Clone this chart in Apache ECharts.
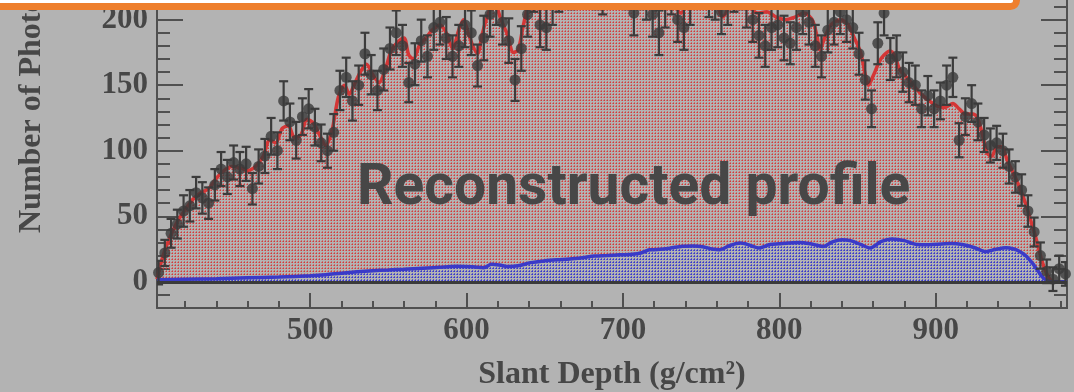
<!DOCTYPE html>
<html>
<head>
<meta charset="utf-8">
<script src="https://cdn.jsdelivr.net/npm/echarts@6.0.0/dist/echarts.min.js"></script>
<style>
  html, body { margin: 0; padding: 0; background: #b3b3b3; overflow: hidden; }
  #chart { width: 1074px; height: 392px; }
</style>
</head>
<body>
<div id="chart"></div>
<script>
// Slant-depth binning of the measured photon profile
const binStart = 403;
const binWidth = 4;

// Measured photons per bin and their uncertainties
const obsValue = [
  7, 22, 37, 44, 54, 58, 68, 64, 60, 74,
  86, 80, 91, 86, 90, 71, 88, 96, 111, 100,
  138, 122, 108, 126, 132, 118, 106, 100, 114, 146,
  156, 138, 150, 174, 158, 146, 162, 178, 190, 180,
  152, 166, 184, 172, 194, 198, 186, 172, 180, 196,
  190, 165, 186, 204, 214, 198, 184, 154, 178, 204,
  224, 196, 194, 214, 224, 232, 226, 240, 228, 236,
  226, 222, 240, 232, 244, 226, 205, 226, 218, 204,
  190, 212, 222, 200, 194, 214, 232, 236, 220, 218,
  206, 214, 224, 226, 212, 200, 188, 180, 194, 196,
  186, 182, 194, 206, 198, 180, 172, 192, 198, 206,
  200, 194, 174, 154, 132, 182, 205, 170, 172, 160,
  152, 150, 132, 142, 132, 138, 150, 156, 108, 126,
  136, 122, 112, 104, 106, 100, 88, 80, 70, 54,
  38, 20, 8, 2, 10, 6
];
const obsError = [
  9, 10, 11, 11, 12, 12, 12, 12, 12, 12,
  13, 13, 13, 13, 13, 12, 13, 13, 14, 14,
  15, 14, 14, 14, 15, 14, 14, 13, 14, 15,
  15, 15, 15, 16, 15, 15, 16, 16, 17, 16,
  15, 16, 16, 16, 17, 17, 16, 16, 16, 17,
  17, 16, 17, 17, 18, 17, 17, 16, 17, 17,
  18, 17, 17, 18, 18, 18, 18, 18, 18, 18,
  18, 18, 18, 18, 19, 18, 17, 18, 18, 17,
  17, 18, 18, 17, 17, 18, 18, 18, 18, 18,
  17, 18, 18, 18, 18, 17, 17, 16, 17, 17,
  17, 16, 17, 17, 17, 16, 16, 17, 17, 17,
  17, 16, 16, 15, 14, 16, 17, 16, 16, 15,
  15, 15, 14, 15, 14, 14, 15, 15, 13, 14,
  14, 14, 13, 13, 13, 13, 13, 12, 12, 12,
  11, 10, 9, 9, 10, 9
];

// Reconstructed (total) profile
const profileDepth = [
  402, 404, 407, 411, 415, 420, 425, 430, 435, 440,
  445, 450, 455, 460, 465, 470, 474, 478, 482, 486,
  490, 494, 498, 502, 506, 510, 514, 518, 522, 525,
  528, 532, 536, 540, 544, 548, 552, 556, 560, 563,
  566, 570, 574, 578, 583, 587, 591, 595, 598, 601,
  604, 607, 610, 614, 618, 622, 626, 630, 633, 636,
  640, 645, 652, 660, 668, 676, 684, 692, 700, 708,
  716, 724, 730, 737, 743, 750, 756, 760, 764, 768,
  774, 780, 786, 792, 798, 804, 810, 816, 821, 824,
  826, 829, 833, 839, 844, 848, 852, 855, 857, 860,
  864, 867, 871, 874, 877, 883, 890, 896, 901, 906,
  911, 915, 919, 924, 927, 930, 933, 936, 939, 942,
  946, 950, 954, 958, 961, 964, 967, 970, 973, 976,
  984
];
const profileValue = [
  2, 12, 24, 36, 46, 55, 63, 68, 71, 79,
  85, 88, 87, 85, 88, 96, 108, 106, 117, 119,
  110, 112, 124, 121, 112, 104, 116, 141, 150, 143,
  150, 160, 166, 158, 152, 162, 177, 183, 186, 173,
  170, 181, 186, 192, 196, 190, 178, 192, 200, 190,
  180, 174, 189, 205, 212, 200, 189, 175, 177, 194,
  214, 226, 222, 232, 236, 232, 240, 236, 242, 234,
  228, 224, 218, 205, 220, 230, 222, 212, 202, 210,
  220, 212, 205, 206, 202, 200, 202, 205, 200, 188,
  177, 186, 196, 200, 196, 186, 175, 158, 150, 157,
  168, 173, 176, 172, 162, 154, 144, 138, 134, 133,
  136, 132, 128, 128, 124, 112, 98, 96, 103, 103,
  92, 82, 71, 58, 46, 34, 20, 9, 2, 0,
  0
];

// Background contribution
const bgDepth = [
  402, 420, 440, 460, 480, 500, 510, 520, 530, 540,
  550, 560, 572, 585, 594, 604, 611, 616, 621, 627,
  633, 641, 650, 658, 666, 674, 682, 690, 698, 706,
  712, 717, 722, 730, 738, 745, 751, 757, 762, 768,
  775, 781, 787, 794, 800, 806, 813, 820, 828, 834,
  840, 846, 852, 858, 865, 872, 880, 888, 896, 904,
  910, 917, 925, 932, 938, 945, 950, 954, 958, 962,
  965, 968, 971, 974, 984
];
const bgValue = [
  1.5, 2, 2.4, 3, 3.6, 4.6, 5.4, 6.6, 7.6, 8.4,
  9, 9.6, 10.4, 11.2, 11.8, 11.5, 10.8, 13.4, 12.8, 11.6,
  12.2, 14.6, 16, 16.8, 17.4, 18.4, 19.6, 20, 20.6, 21,
  22.2, 24.4, 24.6, 25.6, 27.2, 27.4, 26.8, 25, 24.4, 27.5,
  29.5, 28, 25.8, 28.4, 29, 29.6, 30, 29, 27, 30.4,
  32, 31.2, 28.5, 25.8, 30.6, 32.6, 31.4, 28.4, 28.2, 28.8,
  29.2, 28.4, 26, 23, 24.6, 26, 25, 23, 19.5, 14,
  9, 4, 1, 0, 0
];

// Axis ranges and ticks
const xRange = [402, 984];
const yRange = [-20, 215];
const xMajorTicks = [500, 600, 700, 800, 900];
const yMajorTicks = [0, 50, 100, 150, 200];
const xMinorTicks = [];
for (let v = 420; v <= 980; v += 20) xMinorTicks.push(v);
const yMinorTicks = [];
for (let v = -10; v <= 210; v += 10) yMinorTicks.push(v);

const obsData = obsValue.map((v, i) => [binStart + i * binWidth, v, obsError[i]]);
const profileData = profileDepth.map((d, i) => [d, profileValue[i]]);
const bgData = bgDepth.map((d, i) => [d, bgValue[i]]);

function dotPattern(rgb, bg, soft) {
  const c = document.createElement('canvas');
  c.width = 3; c.height = 3;
  const g = c.getContext('2d');
  if (bg) { g.fillStyle = bg; g.fillRect(0, 0, 3, 3); }
  g.fillStyle = 'rgba(' + rgb + ',1)';
  g.fillRect(1, 1, 1, 1);
  g.fillStyle = 'rgba(' + rgb + ',' + soft + ')';
  g.fillRect(0, 1, 1, 1);
  g.fillRect(1, 0, 1, 1);
  return c;
}

const ink = '#474747';
const frame = '#505050';
const serif = '"Liberation Serif", "DejaVu Serif", serif';

function tickAxis(position, values, len, labels) {
  return {
    type: 'value', position: position,
    min: position === 'bottom' ? xRange[0] : yRange[0],
    max: position === 'bottom' ? xRange[1] : yRange[1],
    axisLine: { show: !!labels || position === 'right', onZero: false, lineStyle: { color: frame, width: 2 } },
    axisTick: { show: true, inside: true, length: len, customValues: values, lineStyle: { color: frame, width: 2 } },
    axisLabel: labels ? {
      show: true, customValues: values, color: ink,
      fontFamily: serif, fontWeight: 'bold', fontSize: 31, margin: position === 'bottom' ? 7 : 9
    } : { show: false },
    splitLine: { show: false }
  };
}

const xMain = tickAxis('bottom', xMajorTicks, 15, true);
xMain.name = 'Slant Depth (g/cm²)';
xMain.nameLocation = 'middle';
xMain.nameGap = 51;
xMain.nameTextStyle = { color: ink, fontFamily: serif, fontWeight: 'bold', fontSize: 32 };

const chart = echarts.init(document.getElementById('chart'), null, { renderer: 'canvas' });
chart.setOption({
  backgroundColor: '#b3b3b3',
  animation: false,
  grid: { left: 157, right: 7, top: 0, bottom: 84, containLabel: false, outerBoundsMode: 'none' },
  xAxis: [xMain, tickAxis('bottom', xMinorTicks, 7, false)],
  yAxis: [
    tickAxis('left', yMajorTicks, 26, true),
    tickAxis('left', yMinorTicks, 13, false),
    tickAxis('right', yMajorTicks, 26, false),
    tickAxis('right', yMinorTicks, 13, false)
  ],
  series: [
    {
      name: 'Reconstructed profile', type: 'line', data: profileData,
      smooth: 0.3, showSymbol: false, symbol: 'none', clip: true,
      lineStyle: { color: '#d43636', width: 3.5 },
      areaStyle: { color: { image: dotPattern('212,58,58', null, 0.55), repeat: 'repeat' }, opacity: 1 },
      z: 2
    },
    {
      name: 'Background', type: 'line', data: bgData,
      smooth: 0.3, showSymbol: false, symbol: 'none', clip: true,
      lineStyle: { color: '#3a3ac8', width: 3.5 },
      areaStyle: { color: { image: dotPattern('55,55,205', '#b3b3b3', 0.7), repeat: 'repeat' }, opacity: 1 },
      markLine: {
        silent: true, symbol: 'none', label: { show: false },
        lineStyle: { color: '#3a3a3a', width: 3, type: 'solid' },
        data: [{ yAxis: 0 }]
      },
      z: 3
    },
    {
      name: 'Error', type: 'custom', data: obsData, clip: true,
      encode: { x: 0, y: 1 },
      renderItem: function (params, api) {
        const x = api.value(0), y = api.value(1), e = api.value(2);
        const hi = api.coord([x, y + e]);
        const lo = api.coord([x, y - e]);
        const st = { stroke: '#3c3c3c', lineWidth: 2.2 };
        return {
          type: 'group',
          children: [
            { type: 'line', shape: { x1: hi[0], y1: hi[1], x2: lo[0], y2: lo[1] }, style: st },
            { type: 'line', shape: { x1: hi[0] - 4.5, y1: hi[1], x2: hi[0] + 4.5, y2: hi[1] }, style: st },
            { type: 'line', shape: { x1: lo[0] - 4.5, y1: lo[1], x2: lo[0] + 4.5, y2: lo[1] }, style: st }
          ]
        };
      },
      z: 4
    },
    {
      name: 'Data', type: 'scatter', data: obsData.map(d => [d[0], d[1]]),
      symbol: 'circle', symbolSize: 11, clip: true,
      itemStyle: { color: '#393939' },
      z: 5
    }
  ],
  graphic: [
    {
      type: 'text', x: 32, y: 233, rotation: Math.PI / 2, z: 10,
      style: { text: 'Number of Photons', fill: ink, font: 'bold 32px ' + serif, align: 'left', verticalAlign: 'middle' }
    },
    {
      type: 'text', x: 357, y: 190, z: 10,
      style: { text: 'Reconstructed profile', fill: ink, font: 'bold 57px Roboto, "Noto Sans", sans-serif', align: 'left', verticalAlign: 'middle' }
    },
    {
      type: 'rect', z: 100,
      shape: { x: -20, y: -60, width: 1036.5, height: 66.5, r: 6 },
      style: { fill: '#ffffff', stroke: '#ee7f2e', lineWidth: 7 }
    }
  ]
});
</script>
</body>
</html>
